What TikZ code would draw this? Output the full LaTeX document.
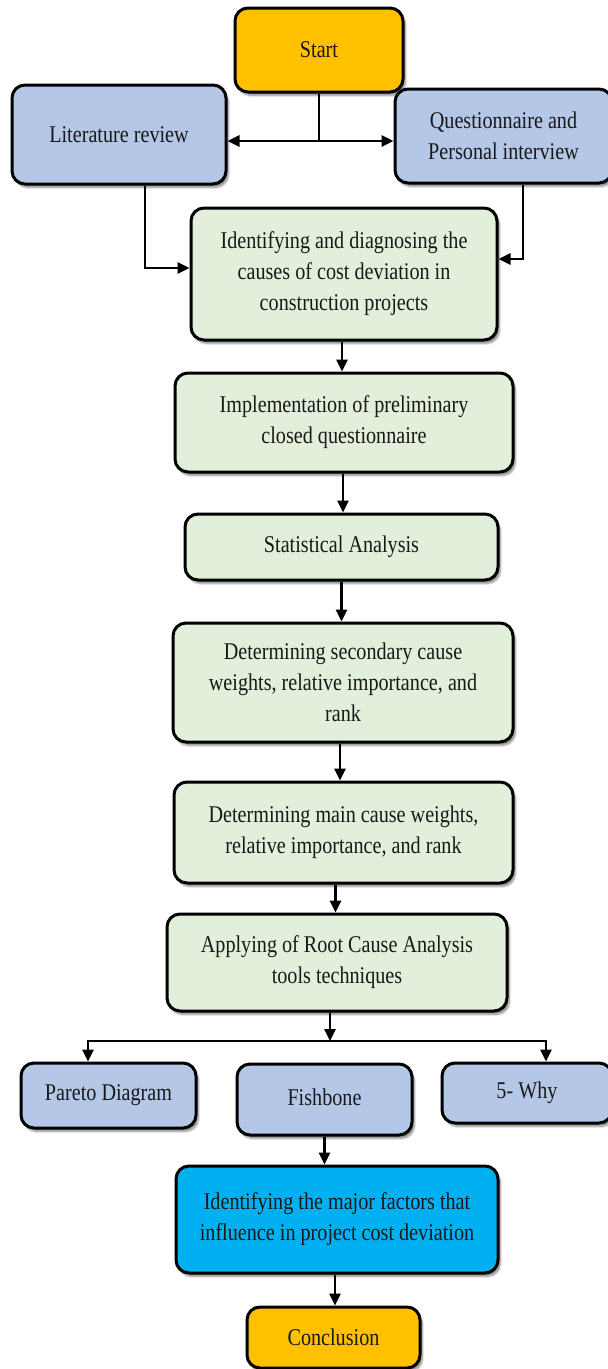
\documentclass[tikz,border=0pt]{standalone}
\usepackage{fontspec}
\setmainfont{Liberation Serif}[FakeStretch=0.84]
\usetikzlibrary{arrows.meta,shadows.blur}
\definecolor{cstart}{HTML}{FFC000}
\definecolor{cblue}{HTML}{B4C7E7}
\definecolor{cgreen}{HTML}{E2EFDA}
\definecolor{ccyan}{HTML}{00B0F0}
\tikzset{
  box/.style={draw=black, line width=3pt, rounded corners=13pt, align=center,
    inner sep=0pt, font=\fontsize{24}{31}\selectfont, text=black!90,
    blur shadow={shadow xshift=2.5pt, shadow yshift=-3.5pt, shadow blur steps=6, shadow opacity=45}},
  startbox/.style={box, fill=cstart},
  bluebox/.style={box, fill=cblue},
  greenbox/.style={box, fill=cgreen},
  cyanbox/.style={box, fill=ccyan},
  arr/.style={line width=2.8pt, -{Triangle[length=12pt,width=11pt]}},
  darr/.style={line width=2.8pt, {Triangle[length=12pt,width=11pt]}-{Triangle[length=12pt,width=11pt]}},
  ln/.style={line width=2.8pt}
}
\begin{document}
\begin{tikzpicture}[x=1pt,y=-1pt]
\useasboundingbox (0,0) rectangle (608,1369);
\clip (0,0) rectangle (608,1369);
\node[startbox, minimum width=168pt, minimum height=84pt] (start) at (319,50) {Start};
\node[bluebox, minimum width=214pt, minimum height=99pt] (lit) at (119,134.5) {Literature review};
\node[bluebox, minimum width=217pt, minimum height=94pt] (quest) at (503.5,136) {Questionnaire and\\Personal interview};
\node[greenbox, minimum width=306pt, minimum height=132pt] (ident) at (344,274) {Identifying and diagnosing the\\causes of cost deviation in\\construction projects};
\node[greenbox, minimum width=338pt, minimum height=99pt] (impl) at (344,422.5) {Implementation of preliminary\\closed questionnaire};
\node[greenbox, minimum width=313pt, minimum height=66pt] (stat) at (341.5,547) {Statistical Analysis};
\node[greenbox, minimum width=340pt, minimum height=119pt] (sec) at (343,682.5) {Determining secondary cause\\weights, relative importance, and\\rank};
\node[greenbox, minimum width=339pt, minimum height=101pt] (main) at (343.5,832.5) {Determining main cause weights,\\relative importance, and rank};
\node[greenbox, minimum width=340pt, minimum height=97pt] (rca) at (337,962.5) {Applying of Root Cause Analysis\\tools techniques};
\node[bluebox, minimum width=175pt, minimum height=65pt] (pareto) at (108.5,1095.5) {Pareto Diagram};
\node[bluebox, minimum width=175pt, minimum height=71pt] (fish) at (324.5,1099.5) {\raisebox{5pt}{Fishbone}};
\node[bluebox, minimum width=170pt, minimum height=60pt] (why) at (527,1093) {5- Why};
\node[cyanbox, minimum width=322pt, minimum height=107pt] (major) at (337,1219.5) {Identifying the major factors that\\influence in project cost deviation};
\node[startbox, minimum width=173pt, minimum height=61pt] (concl) at (333.5,1337.5) {Conclusion};

\coordinate (j1) at (319,141);
\draw[ln] (start.south) -- (j1);
\draw[darr] (lit.east |- j1) -- (quest.west |- j1);
\draw[arr] ([xshift=26pt]lit.south) |- ([yshift=6pt]ident.west);
\draw[arr] ([xshift=19.5pt]quest.south) |- ([yshift=15pt]ident.east);
\draw[arr] ([xshift=-2pt]ident.south) -- ([xshift=-2pt]ident.south |- impl.north);
\draw[arr] ([xshift=-1pt]impl.south) -- ([xshift=-1pt]impl.south |- stat.north);
\draw[arr] (stat.south) -- (stat.south |- sec.north);
\draw[arr] ([xshift=-3pt]sec.south) -- ([xshift=-3pt]sec.south |- main.north);
\draw[arr] ([xshift=-8pt]main.south) -- ([xshift=-8pt]main.south |- rca.north);
\coordinate (br) at (330,1041);
\draw[arr] (rca.south -| br) -- (br);
\draw[arr] (br) -| ([xshift=-20.5pt]pareto.north);
\draw[arr] (br) -| ([xshift=19pt]why.north);
\draw[arr] (fish.south) -- (fish.south |- major.north);
\draw[arr] ([xshift=-2pt]major.south) -- ([xshift=-2pt]major.south |- concl.north);
\end{tikzpicture}
\end{document}
